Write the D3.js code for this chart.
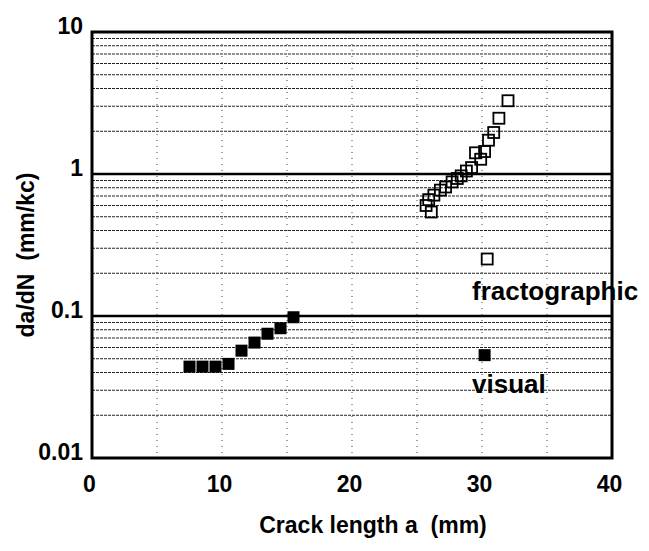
<!DOCTYPE html>
<html>
<head>
<meta charset="utf-8">
<script src="https://cdn.jsdelivr.net/npm/d3@7"></script>
<style>
  body { margin: 0; background: #fff; }
  svg { display: block; font-family: "Liberation Sans", Arial, sans-serif; }
</style>
</head>
<body>
<div id="chart"></div>
<script>
  // data
  var fractoA = [25.7, 25.9, 26.1, 26.3, 26.8, 27.2, 27.7, 28.1, 28.4, 28.8, 29.2, 29.5, 29.9, 30.2, 30.5, 30.9, 31.3, 32.0];
  var fractoRate = [0.60, 0.66, 0.54, 0.71, 0.77, 0.81, 0.88, 0.93, 0.97, 1.05, 1.11, 1.41, 1.27, 1.44, 1.73, 1.96, 2.47, 3.28];
  var visualA = [7.5, 8.5, 9.5, 10.5, 11.5, 12.5, 13.5, 14.5, 15.5];
  var visualRate = [0.044, 0.044, 0.044, 0.046, 0.057, 0.065, 0.075, 0.082, 0.098];
  var xTicks = [0, 10, 20, 30, 40];
  var yTicks = [0.01, 0.1, 1, 10];
  var xGrid = [5, 10, 15, 20, 25, 30, 35];
  var legendNames = ["fractographic", "visual"];

  var W = 649, H = 551;
  var svg = d3.select("#chart").append("svg").attr("width", W).attr("height", H);

  var x = d3.scaleLinear().domain([0, 40]).range([92, 612]);
  var y = d3.scaleLog().domain([0.01, 10]).range([458, 32]);

  // minor horizontal grid (2..9 in each decade)
  var minor = [];
  [0.01, 0.1, 1].forEach(function(d) {
    for (var k = 2; k <= 9; k++) minor.push(d * k);
  });
  svg.append("g").selectAll("line").data(minor).enter().append("line")
    .attr("x1", x(0)).attr("x2", x(40))
    .attr("y1", function(d) { return y(d); })
    .attr("y2", function(d) { return y(d); })
    .style("stroke", "#222")
    .style("stroke-width", 1)
    .style("stroke-dasharray", "3,1");

  // vertical dotted grid
  svg.append("g").selectAll("line").data(xGrid).enter().append("line")
    .attr("x1", function(d) { return x(d); })
    .attr("x2", function(d) { return x(d); })
    .attr("y1", y(10)).attr("y2", y(0.01))
    .style("stroke", "#444")
    .style("stroke-width", 1)
    .style("stroke-dasharray", "1,5");

  // major decade lines
  svg.append("g").selectAll("line").data([0.1, 1]).enter().append("line")
    .attr("x1", x(0)).attr("x2", x(40))
    .attr("y1", function(d) { return y(d); })
    .attr("y2", function(d) { return y(d); })
    .style("stroke", "#000")
    .style("stroke-width", 2.5);

  // frame
  svg.append("rect")
    .attr("x", x(0)).attr("y", y(10))
    .attr("width", x(40) - x(0)).attr("height", y(0.01) - y(10))
    .style("fill", "none").style("stroke", "#000").style("stroke-width", 3);

  // axes
  var xAxis = svg.append("g").attr("transform", "translate(0," + y(0.01) + ")")
    .call(d3.axisBottom(x).tickValues(xTicks).tickSize(0).tickPadding(18));
  var yAxis = svg.append("g").attr("transform", "translate(" + x(0) + ",0)")
    .call(d3.axisLeft(y).tickValues(yTicks).tickSize(0).tickPadding(9).tickFormat(d3.format("~g")));
  [xAxis, yAxis].forEach(function(g) {
    g.select(".domain").remove();
    g.selectAll("text")
      .style("font-family", "'Liberation Sans', Arial, sans-serif")
      .style("font-size", "23px")
      .style("font-weight", "bold")
      .attr("fill", "#000");
  });
  xAxis.selectAll("text").attr("dx", "-3");
  yAxis.selectAll("text").attr("dy", "0.07em");

  // axis titles (double spaces kept with nbsp)
  svg.append("text")
    .attr("x", 373).attr("y", 533)
    .attr("text-anchor", "middle")
    .style("font-size", "23px").style("font-weight", "bold")
    .text("Crack length a\u00a0\u00a0(mm)");
  svg.append("text")
    .attr("transform", "translate(34,255) rotate(-90)")
    .attr("text-anchor", "middle")
    .style("font-size", "23px").style("font-weight", "bold")
    .text("da/dN\u00a0\u00a0(mm/kc)");

  // fractographic: open squares
  var sO = 11;
  svg.append("g").selectAll("rect").data(fractoA).enter().append("rect")
    .attr("x", function(d) { return x(d) - sO / 2; })
    .attr("y", function(d, i) { return y(fractoRate[i]) - sO / 2; })
    .attr("width", sO).attr("height", sO)
    .style("fill", "none").style("stroke", "#000").style("stroke-width", 1.8);

  // visual: filled squares
  var sF = 12;
  svg.append("g").selectAll("rect").data(visualA).enter().append("rect")
    .attr("x", function(d) { return x(d) - sF / 2; })
    .attr("y", function(d, i) { return y(visualRate[i]) - sF / 2; })
    .attr("width", sF).attr("height", sF)
    .style("fill", "#000");

  // legend
  svg.append("rect")
    .attr("x", x(30.4) - sO / 2).attr("y", y(0.252) - sO / 2)
    .attr("width", sO).attr("height", sO)
    .style("fill", "none").style("stroke", "#000").style("stroke-width", 1.8);
  svg.append("text").attr("x", 472).attr("y", 300)
    .style("font-size", "26px").style("font-weight", "bold")
    .text(legendNames[0]);
  svg.append("rect")
    .attr("x", x(30.2) - sF / 2).attr("y", y(0.053) - sF / 2)
    .attr("width", sF).attr("height", sF)
    .style("fill", "#000");
  svg.append("text").attr("x", 472).attr("y", 393)
    .style("font-size", "26px").style("font-weight", "bold")
    .text(legendNames[1]);
</script>
</body>
</html>
